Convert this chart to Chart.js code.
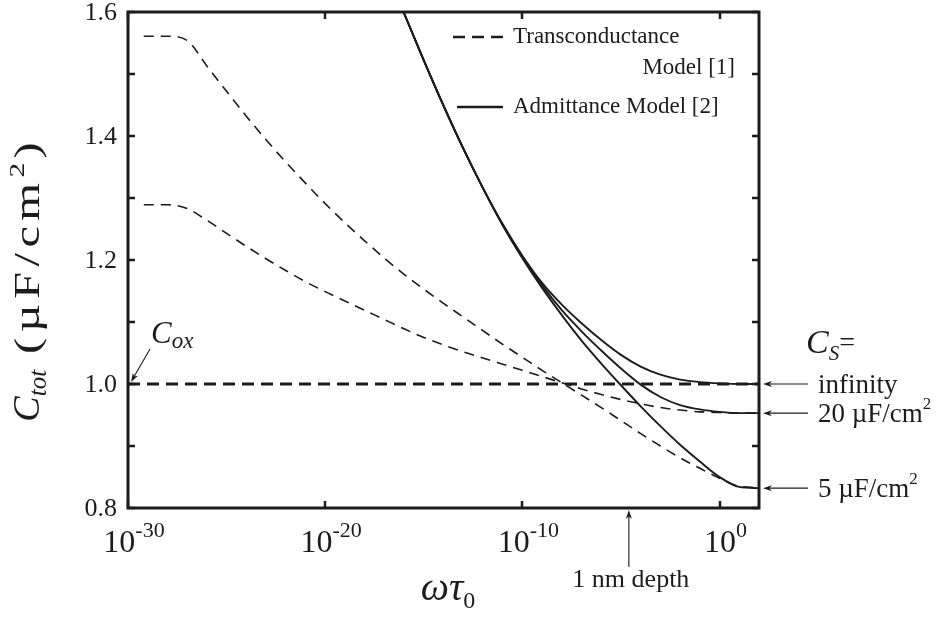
<!DOCTYPE html>
<html>
<head>
<meta charset="utf-8">
<script src="https://cdn.jsdelivr.net/npm/chart.js@4.4.1/dist/chart.umd.min.js"></script>
<style>
  html, body { margin: 0; padding: 0; background: #fff; }
</style>
</head>
<body>
<canvas id="chart" width="937" height="617"></canvas>
<script>
/* C_tot vs omega*tau0 : transconductance (dashed) vs admittance (solid) model.
   x values are log10(omega*tau0). */

// axis ticks
const xTickExps = [-30, -20, -10, 0];
const yTickVals = [0.8, 1.0, 1.2, 1.4, 1.6];
const yMinorVals = [0.9, 1.1, 1.3, 1.5];

// oxide capacitance reference line
const coxExp = [-30, 2];
const coxC = [1.0, 1.0];

// transconductance model [1]
const tc5Exp = [-29.2, -28, -27, -26, -25, -24, -23, -22, -21, -20, -19, -18, -17, -16, -15, -14, -13, -12, -11, -10, -9, -8, -7, -6, -5, -4, -3, -2, -1, 0, 1, 2];
const tc5C = [1.561, 1.561, 1.554, 1.513, 1.472, 1.432, 1.394, 1.358, 1.324, 1.291, 1.260, 1.231, 1.203, 1.177, 1.153, 1.130, 1.108, 1.086, 1.064, 1.043, 1.022, 1.002, 0.982, 0.962, 0.941, 0.920, 0.900, 0.881, 0.864, 0.848, 0.835, 0.833];

const tc20Exp = [-29.2, -28, -27, -26, -25, -24, -23, -22, -21, -20, -19, -18, -17, -16, -15, -14, -13, -12, -11, -10, -9, -8, -7, -6, -5, -4, -3, -2, -1, 0, 1, 2];
const tc20C = [1.289, 1.289, 1.283, 1.264, 1.243, 1.222, 1.202, 1.183, 1.165, 1.149, 1.134, 1.119, 1.104, 1.089, 1.075, 1.063, 1.052, 1.042, 1.032, 1.022, 1.012, 1.002, 0.992, 0.983, 0.975, 0.968, 0.962, 0.958, 0.955, 0.954, 0.953, 0.953];

// admittance model [2], one curve per Cs
const admExp = [-17, -16, -15, -14, -13, -12, -11, -10, -9, -8, -7, -6, -5, -4, -3, -2, -1, 0, 1, 2];
const admInfC = [1.676, 1.598, 1.522, 1.449, 1.380, 1.316, 1.258, 1.207, 1.163, 1.128, 1.098, 1.071, 1.047, 1.028, 1.015, 1.007, 1.003, 1.001, 1.000, 1.000];
const adm20C = [1.676, 1.598, 1.522, 1.449, 1.380, 1.316, 1.257, 1.205, 1.159, 1.119, 1.085, 1.054, 1.025, 0.999, 0.979, 0.966, 0.959, 0.955, 0.953, 0.953];
const adm5C = [1.676, 1.598, 1.522, 1.449, 1.380, 1.316, 1.256, 1.203, 1.155, 1.111, 1.070, 1.033, 0.998, 0.964, 0.932, 0.902, 0.875, 0.850, 0.834, 0.832];

const csLabels = ['infinity', '20 µF/cm', '5 µF/cm'];
const depthMarkExp = -4.6; // 1 nm depth

const serif = '"Liberation Serif", "Times New Roman", serif';
const ink = '#1c1c1c';

const pts = (xs, ys) => xs.map((x, i) => ({ x, y: ys[i] }));

function line(label, xs, ys, width, dash) {
  return {
    label,
    data: pts(xs, ys),
    borderColor: ink,
    borderWidth: width,
    borderDash: dash || [],
    pointRadius: 0,
    fill: false,
    cubicInterpolationMode: 'monotone',
  };
}

// text runs: [text, font, dy, spacing]
function runsWidth(ctx, runs) {
  let w = 0;
  runs.forEach(r => {
    ctx.font = r[1];
    const sp = r[3] || 0;
    w += ctx.measureText(r[0]).width + sp * r[0].length;
  });
  return w;
}
function drawRuns(ctx, runs, x, y) {
  let cx = x;
  runs.forEach(r => {
    ctx.font = r[1];
    const sp = r[3] || 0;
    if (!sp) {
      ctx.fillText(r[0], cx, y + (r[2] || 0));
      cx += ctx.measureText(r[0]).width;
    } else {
      for (const ch of r[0]) {
        ctx.fillText(ch, cx, y + (r[2] || 0));
        cx += ctx.measureText(ch).width + sp;
      }
    }
  });
}

function arrow(ctx, x1, y1, x2, y2) {
  const a = Math.atan2(y2 - y1, x2 - x1);
  const len = 9, half = 3;
  ctx.beginPath();
  ctx.moveTo(x1, y1);
  ctx.lineTo(x2 - Math.cos(a) * len * 0.6, y2 - Math.sin(a) * len * 0.6);
  ctx.lineWidth = 1.1;
  ctx.stroke();
  ctx.beginPath();
  ctx.moveTo(x2, y2);
  ctx.lineTo(x2 - Math.cos(a) * len + Math.sin(a) * half, y2 - Math.sin(a) * len - Math.cos(a) * half);
  ctx.lineTo(x2 - Math.cos(a) * len * 0.7, y2 - Math.sin(a) * len * 0.7);
  ctx.lineTo(x2 - Math.cos(a) * len - Math.sin(a) * half, y2 - Math.sin(a) * len + Math.cos(a) * half);
  ctx.closePath();
  ctx.fill();
}

const framePlugin = {
  id: 'frame',
  afterDatasetsDraw(chart) {
    const { ctx, chartArea: a, scales: { x, y } } = chart;
    ctx.save();
    ctx.strokeStyle = ink;
    ctx.fillStyle = ink;

    // box
    ctx.lineWidth = 3;
    ctx.strokeRect(a.left, a.top, a.right - a.left, a.bottom - a.top);

    // inward ticks on all four sides
    ctx.lineWidth = 2.5;
    const tl = 7;
    ctx.beginPath();
    [...yTickVals, ...yMinorVals].forEach(v => {
      const py = Math.round(y.getPixelForValue(v));
      ctx.moveTo(a.left, py); ctx.lineTo(a.left + tl, py);
      ctx.moveTo(a.right, py); ctx.lineTo(a.right - tl, py);
    });
    xTickExps.forEach(e => {
      const px = Math.round(x.getPixelForValue(e));
      ctx.moveTo(px, a.bottom); ctx.lineTo(px, a.bottom - tl);
      ctx.moveTo(px, a.top); ctx.lineTo(px, a.top + tl);
    });
    ctx.stroke();

    // y tick labels
    ctx.textBaseline = 'middle';
    ctx.font = `26px ${serif}`;
    ctx.textAlign = 'right';
    yTickVals.forEach(v => {
      ctx.fillText(v.toFixed(1), a.left - 11, y.getPixelForValue(v) + 1);
    });

    // x tick labels 10^n
    ctx.textAlign = 'left';
    ctx.textBaseline = 'alphabetic';
    xTickExps.forEach(e => {
      const runs = [['10', `32px ${serif}`, 0], [String(e), `22px ${serif}`, -15]];
      const w = runsWidth(ctx, runs);
      drawRuns(ctx, runs, x.getPixelForValue(e) - w / 2 + 6, 552);
    });

    // x title  ωτ0
    const xt = [['ωτ', `italic 40px ${serif}`, 0], ['0', `24px ${serif}`, 8]];
    drawRuns(ctx, xt, 448 - runsWidth(ctx, xt) / 2, 600);

    // y title  Ctot (µF/cm2), units drawn a bit wider
    ctx.save();
    ctx.translate(39, 282);
    ctx.rotate(-Math.PI / 2);
    const k = 1.35;
    const head = [['C', `italic 38px ${serif}`, 0], ['tot', `italic 25px ${serif}`, 7]];
    const unit = [['(µF/cm', `36px ${serif}`, 0, 4], ['2', `22px ${serif}`, -15, 3], [')', `36px ${serif}`, 0]];
    const wHead = runsWidth(ctx, head), wUnit = runsWidth(ctx, unit) * k, gap = 16;
    const start = -(wHead + gap + wUnit) / 2;
    drawRuns(ctx, head, start, 0);
    ctx.translate(start + wHead + gap, 0);
    ctx.scale(k, 1);
    drawRuns(ctx, unit, 0, 0);
    ctx.restore();

    // legend
    ctx.lineWidth = 2.5;
    ctx.setLineDash([12, 7]);
    ctx.beginPath(); ctx.moveTo(453, 37); ctx.lineTo(503, 37); ctx.stroke();
    ctx.setLineDash([]);
    ctx.beginPath(); ctx.moveTo(457, 107); ctx.lineTo(503, 107); ctx.stroke();
    ctx.font = `23px ${serif}`;
    ctx.textBaseline = 'middle';
    ctx.fillText('Transconductance', 513, 37);
    ctx.textAlign = 'right';
    ctx.fillText('Model [1]', 735, 68);
    ctx.textAlign = 'left';
    ctx.fillText('Admittance Model [2]', 513, 107);

    // Cox label + arrow
    ctx.textBaseline = 'alphabetic';
    drawRuns(ctx, [['C', `italic 31px ${serif}`, 0], ['ox', `italic 23px ${serif}`, 5]], 151, 343);
    arrow(ctx, 150, 349, a.left + 3, y.getPixelForValue(1.0) - 2);

    // Cs labels on the right
    drawRuns(ctx, [['C', `italic 34px ${serif}`, 0], ['S', `italic 21px ${serif}`, 7], ['=', `28px ${serif}`, -2]], 806, 353);
    const ends = [admInfC, adm20C, adm5C].map(c => y.getPixelForValue(c[c.length - 1]));
    ctx.textBaseline = 'middle';
    csLabels.forEach((t, i) => {
      const py = ends[i];
      arrow(ctx, 808, py, a.right + 4, py);
      ctx.font = `27px ${serif}`;
      ctx.fillText(t, 818, py + 2);
      if (i > 0) {
        const w = ctx.measureText(t).width;
        ctx.font = `17px ${serif}`;
        ctx.fillText('2', 818 + w, py - 9);
      }
    });

    // 1 nm depth marker
    const dx = x.getPixelForValue(depthMarkExp);
    arrow(ctx, dx, 567, dx, a.bottom + 2);
    ctx.font = `26px ${serif}`;
    ctx.textAlign = 'center';
    ctx.textBaseline = 'alphabetic';
    ctx.fillText('1 nm depth', dx + 2, 587);

    ctx.restore();
  }
};

new Chart(document.getElementById('chart'), {
  type: 'line',
  data: {
    datasets: [
      line('Cox', coxExp, coxC, 3, [12, 7]),
      line('Transconductance Cs=5', tc5Exp, tc5C, 1.6, [10, 7]),
      line('Transconductance Cs=20', tc20Exp, tc20C, 1.6, [10, 7]),
      line('Admittance Cs=inf', admExp, admInfC, 1.9),
      line('Admittance Cs=20', admExp, adm20C, 1.9),
      line('Admittance Cs=5', admExp, adm5C, 1.9),
    ],
  },
  options: {
    responsive: false,
    animation: false,
    devicePixelRatio: 1,
    layout: { padding: { left: 128, right: 178, top: 12, bottom: 109 } },
    plugins: { legend: { display: false }, tooltip: { enabled: false } },
    scales: {
      x: { type: 'linear', display: false, min: -30, max: 2 },
      y: { type: 'linear', display: false, min: 0.8, max: 1.6 },
    },
  },
  plugins: [framePlugin],
});
</script>
</body>
</html>
